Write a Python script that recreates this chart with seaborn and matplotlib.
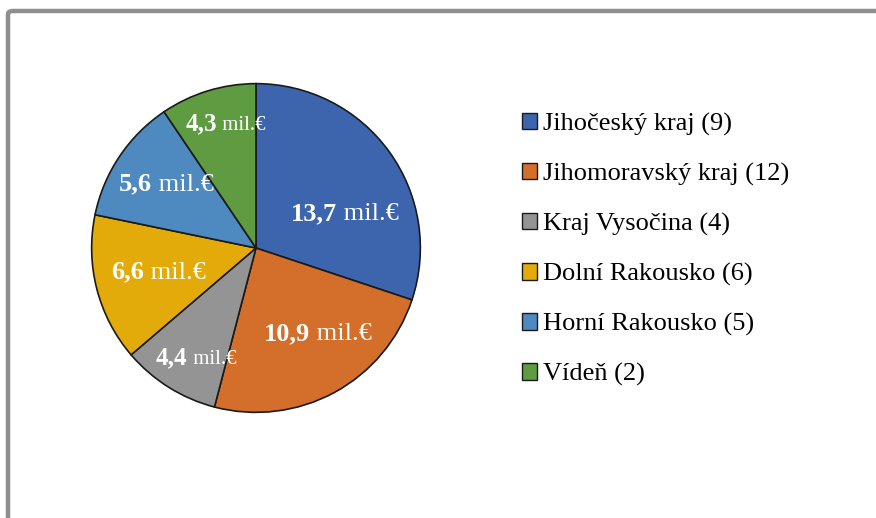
import numpy as np
import matplotlib.pyplot as plt
import matplotlib.patches as mpatches
import seaborn as sns

# ----------------------------------------------------------------------------------------------
# Data
# ----------------------------------------------------------------------------------------------
regions = ["Jihočeský kraj", "Jihomoravský kraj", "Kraj Vysočina",
           "Dolní Rakousko", "Horní Rakousko", "Vídeň"]
project_counts = [9, 12, 4, 6, 5, 2]
amounts = [13.7, 10.9, 4.4, 6.6, 5.6, 4.3]  # mil. EUR
amount_labels = ["13,7", "10,9", "4,4", "6,6", "5,6", "4,3"]
unit_label = " mil.€"

colors = ["#3d65ae", "#d46e2b", "#949494", "#e3ab0a", "#4e89bf", "#5f9b40"]
# label placement inside slices (fraction of radius, angular shift from slice middle)
label_r = [0.585, 0.63, 0.75, 0.61, 0.68, 0.79]
label_shift = [-13, 8, 3, -2, -2.6, -3.3]
num_sizes = [19, 19, 18, 19, 19, 18]
unit_sizes = [19, 19, 15, 19, 19, 15]

sns.set_theme(style="white")
plt.rcParams["font.family"] = ["Liberation Serif", "DejaVu Serif"]
plt.rcParams["text.color"] = "black"

# ----------------------------------------------------------------------------------------------
# Plot
# ----------------------------------------------------------------------------------------------
W, H = 876, 518
fig = plt.figure(figsize=(W / 100, H / 100), dpi=100)
fig.patch.set_facecolor("white")

# gray chart frame (only top and left edges visible in the crop)
frame = mpatches.FancyBboxPatch((8 / W, -0.2), 1.2, 1.2 - 11 / H,
                                boxstyle="round,pad=0,rounding_size=0.006",
                                transform=fig.transFigure, facecolor="none",
                                edgecolor="#8f8f8f", linewidth=3.2)
fig.patches.append(frame)

cx, cy, r = 256, 248, 166
ax = fig.add_axes([(cx - r) / W, (H - cy - r) / H, 2 * r / W, 2 * r / H])
wedges, _ = ax.pie(amounts, colors=colors, startangle=90, counterclock=False,
                   radius=1, wedgeprops=dict(edgecolor="#1a1a1a", linewidth=1.2))
ax.set_xlim(-1.01, 1.01)
ax.set_ylim(-1.01, 1.01)
ax.axis("off")

# data labels: bold value + regular unit, centred in each slice
fig.canvas.draw()
renderer = fig.canvas.get_renderer()
px = 2.02 / (2 * r)
for w, lab, rr, sh, ns, us in zip(wedges, amount_labels, label_r, label_shift,
                                   num_sizes, unit_sizes):
    ang = np.deg2rad((w.theta1 + w.theta2) / 2 + sh)
    x, y = rr * np.cos(ang), rr * np.sin(ang)
    t1 = ax.text(0, 0, lab, fontsize=ns, fontweight="bold", color="white", va="baseline")
    t2 = ax.text(0, 0, unit_label, fontsize=us, color="white", va="baseline")
    w1 = t1.get_window_extent(renderer).width * px
    w2 = t2.get_window_extent(renderer).width * px
    x0 = x - (w1 + w2) / 2
    yb = y - ns * 0.69 * 100 / 72 / 2 * px
    t1.set_position((x0, yb))
    t2.set_position((x0 + w1, yb))

handles = [mpatches.Patch(facecolor=c, edgecolor="#1a1a1a", linewidth=1.0) for c in colors]
labels = [f"{n} ({k})" for n, k in zip(regions, project_counts)]
fig.legend(handles, labels, loc="upper left", bbox_to_anchor=(522 / W, 1 - 113 / H),
           frameon=False, fontsize=19, handlelength=0.57, handleheight=0.57,
           handletextpad=0.22, labelspacing=1.02, borderpad=0, borderaxespad=0)

plt.savefig("out.png", dpi=100)
plt.close()
